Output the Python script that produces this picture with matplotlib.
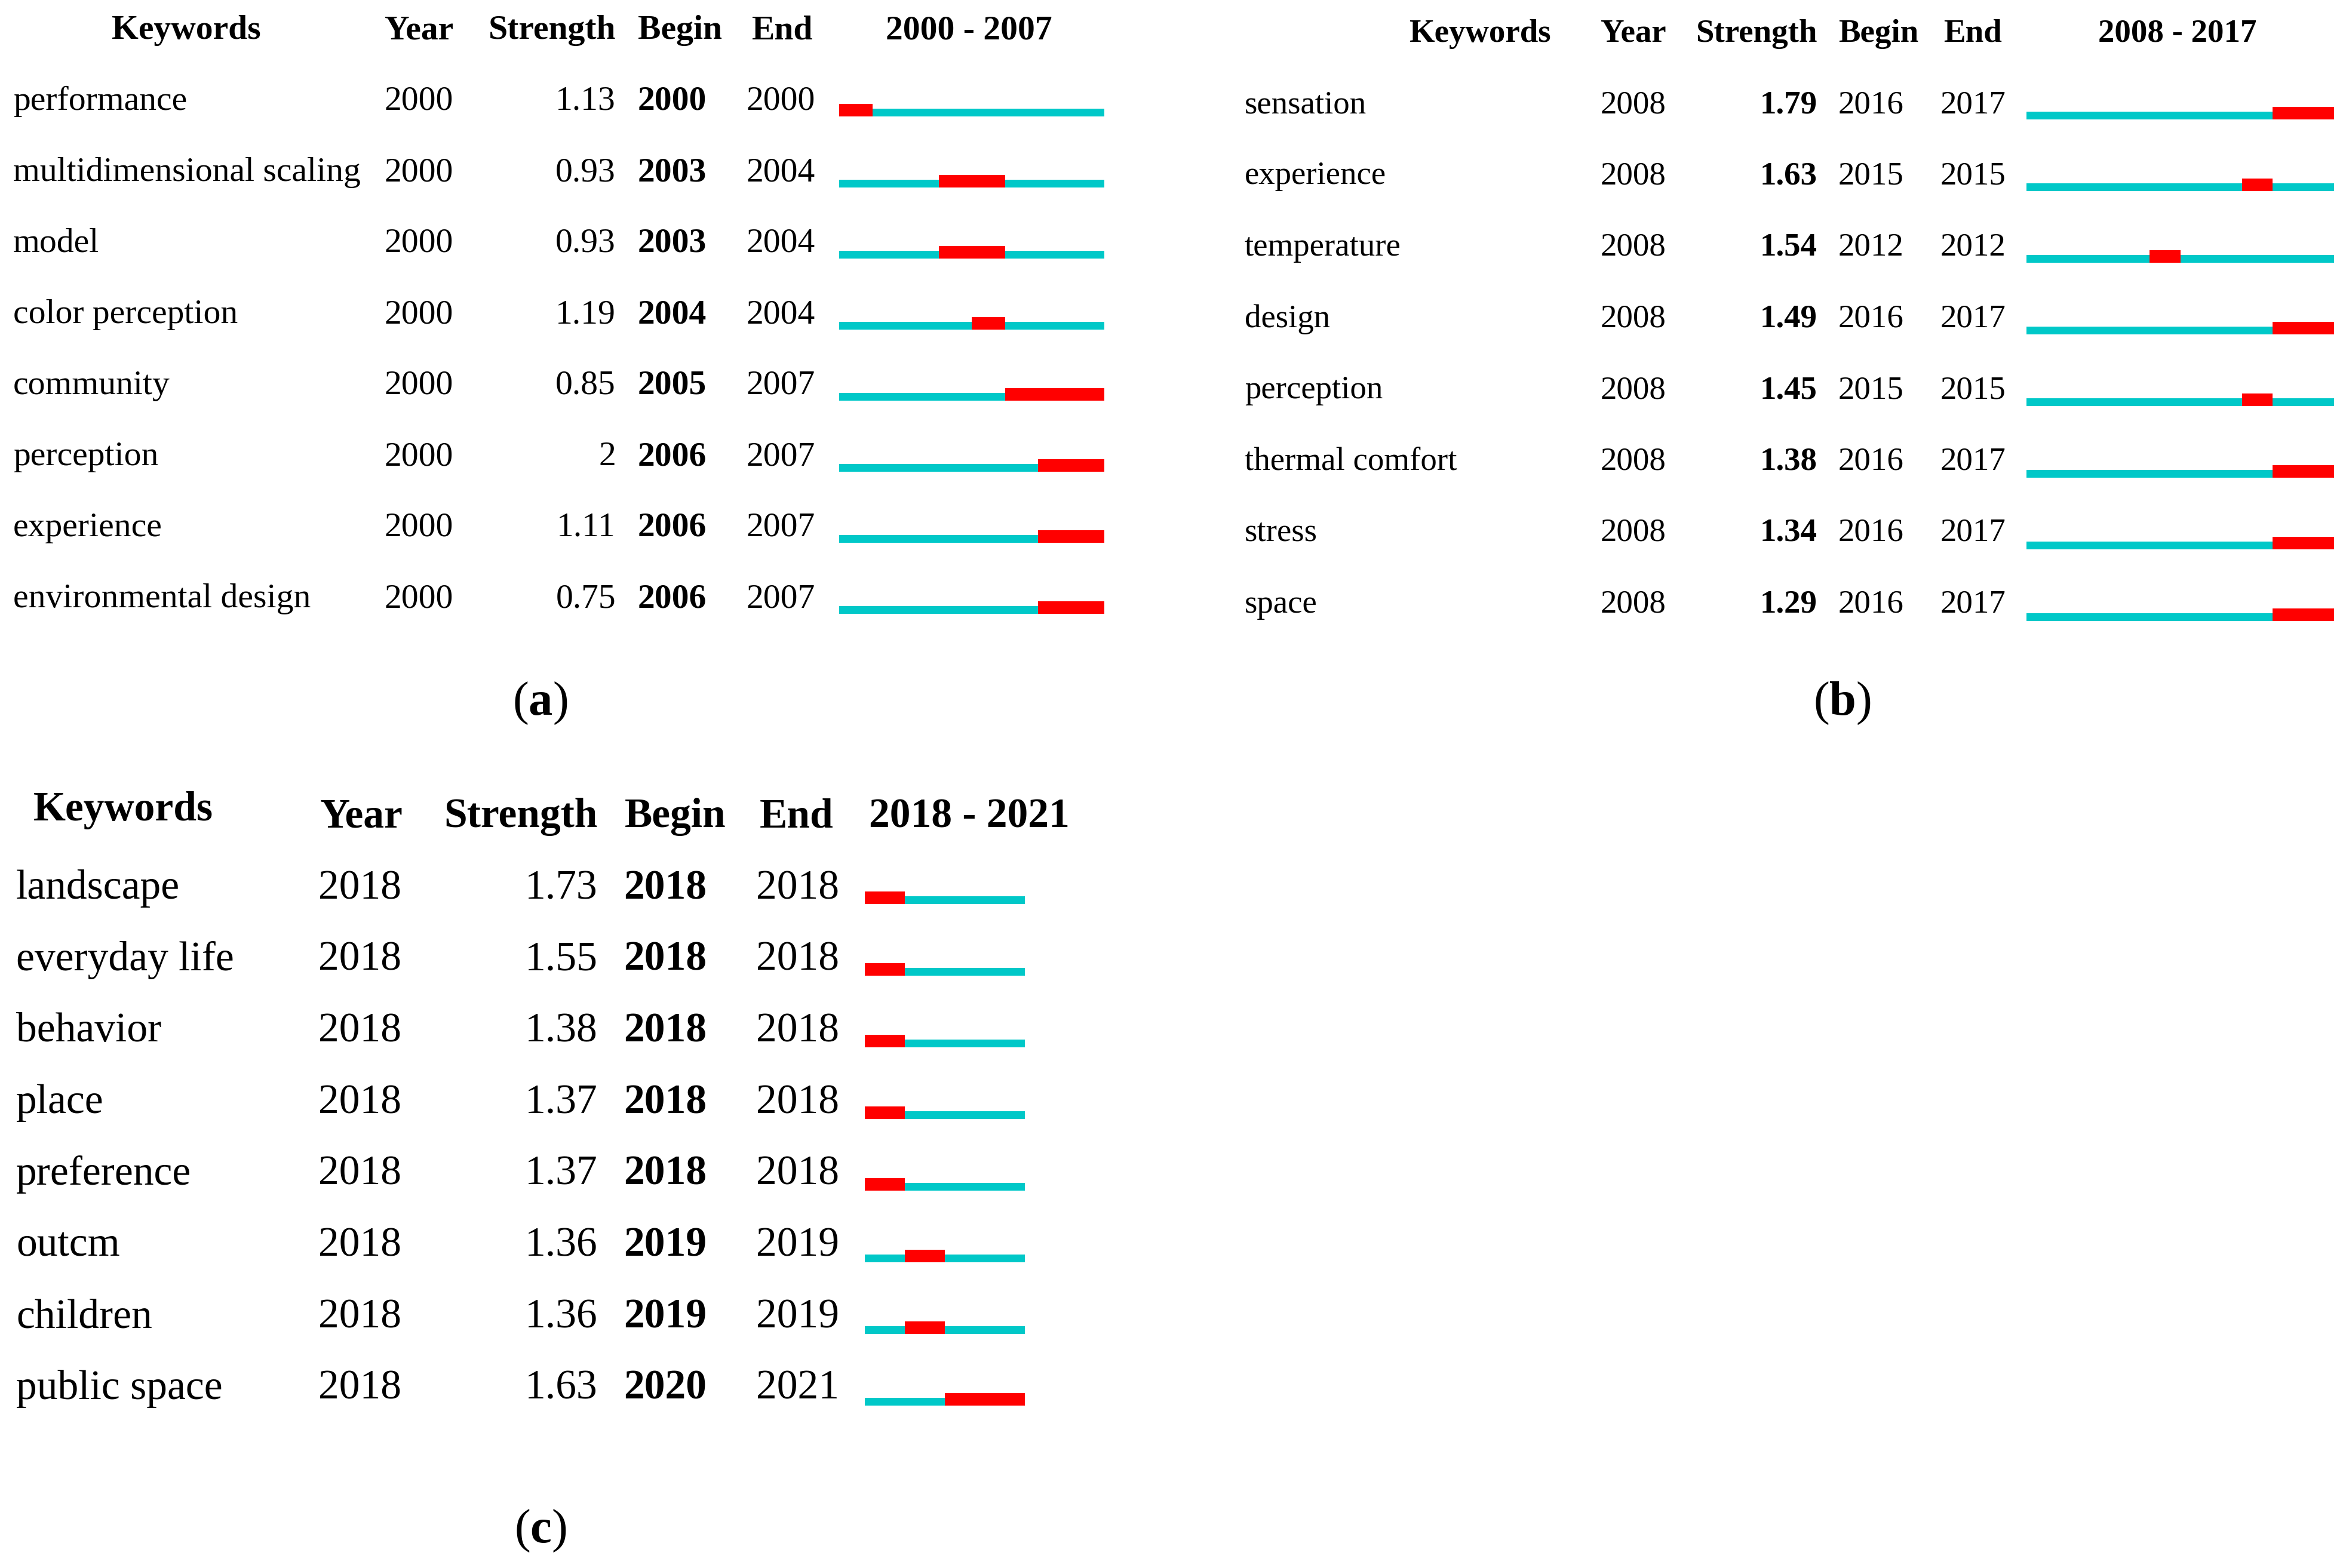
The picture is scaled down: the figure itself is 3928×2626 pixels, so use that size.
import matplotlib
matplotlib.use("Agg")
import matplotlib.pyplot as plt

W, H = 3928, 2626
plt.rcParams['font.family'] = ['Liberation Serif', 'DejaVu Serif']
plt.rcParams['mathtext.fontset'] = 'custom'
plt.rcParams['mathtext.rm'] = 'Liberation Serif'
plt.rcParams['mathtext.bf'] = 'Liberation Serif:bold'

# ---------------- data ----------------
headers = ["Keywords", "Year", "Strength", "Begin", "End"]

a_keywords = ["performance", "multidimensional scaling", "model", "color perception",
              "community", "perception", "experience", "environmental design"]
a_year = [2000, 2000, 2000, 2000, 2000, 2000, 2000, 2000]
a_strength = [1.13, 0.93, 0.93, 1.19, 0.85, 2, 1.11, 0.75]
a_begin = [2000, 2003, 2003, 2004, 2005, 2006, 2006, 2006]
a_end = [2000, 2004, 2004, 2004, 2007, 2007, 2007, 2007]
a_range = [2000, 2007]

b_keywords = ["sensation", "experience", "temperature", "design", "perception",
              "thermal comfort", "stress", "space"]
b_year = [2008, 2008, 2008, 2008, 2008, 2008, 2008, 2008]
b_strength = [1.79, 1.63, 1.54, 1.49, 1.45, 1.38, 1.34, 1.29]
b_begin = [2016, 2015, 2012, 2016, 2015, 2016, 2016, 2016]
b_end = [2017, 2015, 2012, 2017, 2015, 2017, 2017, 2017]
b_range = [2008, 2017]

c_keywords = ["landscape", "everyday life", "behavior", "place", "preference",
              "outcm", "children", "public space"]
c_year = [2018, 2018, 2018, 2018, 2018, 2018, 2018, 2018]
c_strength = [1.73, 1.55, 1.38, 1.37, 1.37, 1.36, 1.36, 1.63]
c_begin = [2018, 2018, 2018, 2018, 2018, 2019, 2019, 2020]
c_end = [2018, 2018, 2018, 2018, 2018, 2019, 2019, 2021]
c_range = [2018, 2021]

panel_labels = ["a", "b", "c"]

CYAN = "#00C8C8"
RED = "#FF0000"

# ---------------- layout (pixels) ----------------
layouts = [
    dict(fs=41.5, kw_x=22, hdr_kw_x=312, hdr_kw_base=65, hdr_base=65,
         year_x=644, str_x=1031, beg_x=1068, end_x=1250,
         hdr_year_x=644, hdr_beg_x=1068, hdr_end_x=1258, hdr_rng_x=1622,
         row_base0=184, row_sp=119, bar_x0=1405, bar_x1=1849, bar_b0=195, bar_sp=119,
         lab=(904, 1197), str_bold=False, beg_bold=True),
    dict(fs=39.5, kw_x=2084, hdr_kw_x=2478, hdr_kw_base=70, hdr_base=70,
         year_x=2680, str_x=3043, beg_x=3078, end_x=3249,
         hdr_year_x=2680, hdr_beg_x=3078, hdr_end_x=3254, hdr_rng_x=3646,
         row_base0=189, row_sp=119.5, bar_x0=3393, bar_x1=3908, bar_b0=200, bar_sp=120,
         lab=(3084, 1197), str_bold=True, beg_bold=False),
    dict(fs=50, kw_x=27, hdr_kw_x=206, hdr_kw_base=1374, hdr_base=1385,
         year_x=533, str_x=1001, beg_x=1044, end_x=1266,
         hdr_year_x=536, hdr_beg_x=1046, hdr_end_x=1272, hdr_rng_x=1623,
         row_base0=1505, row_sp=119.7, bar_x0=1448, bar_x1=1716, bar_b0=1514, bar_sp=120,
         lab=(905, 2583), str_bold=False, beg_bold=True),
]

panels = [
    (a_keywords, a_year, a_strength, a_begin, a_end, a_range),
    (b_keywords, b_year, b_strength, b_begin, b_end, b_range),
    (c_keywords, c_year, c_strength, c_begin, c_end, c_range),
]

fig = plt.figure(figsize=(W / 100, H / 100), dpi=100)
fig.patch.set_facecolor("white")

tax = fig.add_axes([0, 0, 1, 1])
tax.set_xlim(0, W)
tax.set_ylim(H, 0)
tax.axis("off")

for (kw, yr, st, bg, en, rng), L, lab in zip(panels, layouts, panel_labels):
    fs = L["fs"]
    # headers
    tax.text(L["hdr_kw_x"], L["hdr_kw_base"], headers[0], fontsize=fs, fontweight="bold",
             ha="center", va="baseline")
    tax.text(L["hdr_year_x"], L["hdr_base"], headers[1], fontsize=fs, fontweight="bold",
             ha="left", va="baseline")
    tax.text(L["str_x"], L["hdr_base"], headers[2], fontsize=fs, fontweight="bold",
             ha="right", va="baseline")
    tax.text(L["hdr_beg_x"], L["hdr_base"], headers[3], fontsize=fs, fontweight="bold",
             ha="left", va="baseline")
    tax.text(L["hdr_end_x"], L["hdr_base"], headers[4], fontsize=fs, fontweight="bold",
             ha="left", va="baseline")
    tax.text(L["hdr_rng_x"], L["hdr_base"], f"{rng[0]} - {rng[1]}", fontsize=fs,
             fontweight="bold", ha="center", va="baseline")
    # rows
    for i in range(len(kw)):
        yb = L["row_base0"] + i * L["row_sp"]
        tax.text(L["kw_x"], yb, kw[i], fontsize=fs, ha="left", va="baseline")
        tax.text(L["year_x"], yb, str(yr[i]), fontsize=fs, ha="left", va="baseline")
        tax.text(L["str_x"], yb, f"{st[i]:g}", fontsize=fs, ha="right", va="baseline",
                 fontweight="bold" if L["str_bold"] else "normal")
        tax.text(L["beg_x"], yb, str(bg[i]), fontsize=fs, ha="left", va="baseline",
                 fontweight="bold" if L["beg_bold"] else "normal")
        tax.text(L["end_x"], yb, str(en[i]), fontsize=fs, ha="left", va="baseline")
    # panel label
    tax.text(L["lab"][0], L["lab"][1], r"$(\mathbf{" + lab + r"})$", fontsize=58,
             ha="center", va="baseline")

    # bar axes
    n = len(kw)
    sp = L["bar_sp"]
    top_px = L["bar_b0"] - 0.5 * sp
    bot_px = L["bar_b0"] + (n - 0.5) * sp
    bax = fig.add_axes([L["bar_x0"] / W, 1 - bot_px / H,
                        (L["bar_x1"] - L["bar_x0"]) / W, (bot_px - top_px) / H])
    bax.set_xlim(rng[0], rng[1] + 1)
    bax.set_ylim(n - 0.5, -0.5)
    bax.axis("off")
    hc = 13 / sp
    hr = 21 / sp
    rows = list(range(n))
    bax.barh([r - hc / 2 for r in rows], [rng[1] + 1 - rng[0]] * n, left=rng[0],
             height=hc, color=CYAN, linewidth=0)
    bax.barh([r - hr / 2 for r in rows], [e + 1 - b for b, e in zip(bg, en)], left=bg,
             height=hr, color=RED, linewidth=0)

fig.savefig("out.png", dpi=100, facecolor="white")
